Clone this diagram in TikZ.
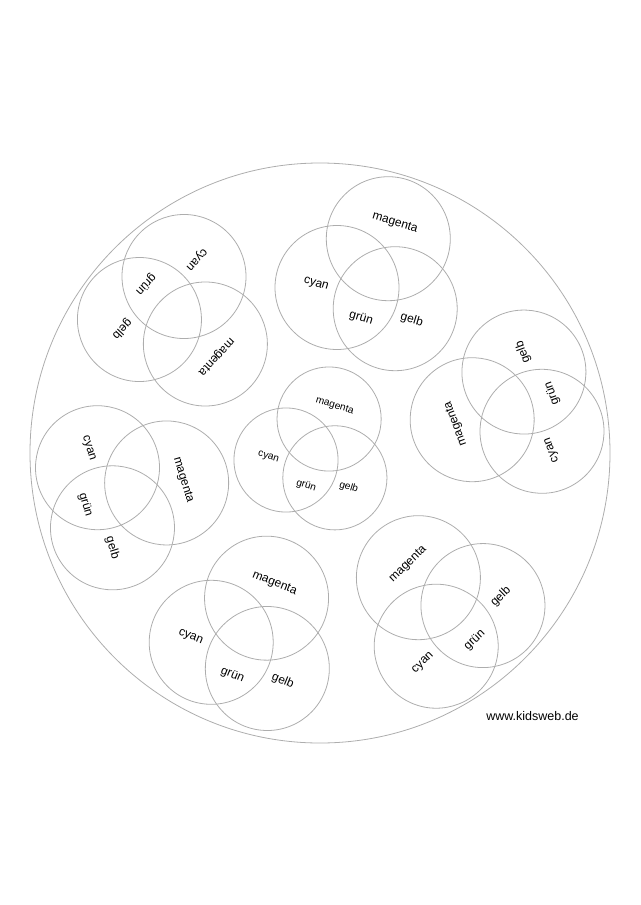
\documentclass[tikz,border=0pt]{standalone}
\usepackage{fontspec}
\setmainfont{Liberation Sans}

\tikzset{every picture/.style={line width=0.8pt}}
\tikzset{
    ring/.style={draw=black!32},
    colorword/.style={font=\fontsize{12}{14}\selectfont, rotate=-17, transform shape, inner sep=0pt},
    pics/farbkreis/.style={code={
        \draw[ring] (0,0) circle [radius=62];
        \draw[ring] (51.3,-48.8) circle [radius=62];
        \draw[ring] (58.2,21.2) circle [radius=62];
        \node[colorword] (-mag) at (58,-64.2) {magenta};
        \node[colorword] (-cya) at (-21,-3.2) {cyan};
        \node[colorword] (-gru) at (24,30.8) {grün};
        \node[colorword] (-gel) at (74.7,32.5) {gelb};
    }}
}

\begin{document}
\begin{tikzpicture}[x=1pt, y=-1pt]
    \useasboundingbox (0,0) rectangle (640,905);
    \draw[ring] (320,453) circle [radius=290];
    % sieben Farbkreise
    \pic[rotate=-116] (tl) at (184,276.5) {farbkreis};
    \pic (tm) at (337,287.5) {farbkreis};
    \pic[rotate=127] (rt) at (542,431.3) {farbkreis};
    \pic[scale=0.84] (mid) at (286,460) {farbkreis};
    \pic[rotate=-56] (lf) at (97.5,467.7) {farbkreis};
    \pic[rotate=-5] (bm) at (211.2,642.3) {farbkreis};
    \pic[rotate=61] (br) at (436.2,646.2) {farbkreis};
    \node[font=\fontsize{12.5}{15}\selectfont, inner sep=0pt] (web) at (532.5,716.5) {www.kidsweb.de};
\end{tikzpicture}
\end{document}
